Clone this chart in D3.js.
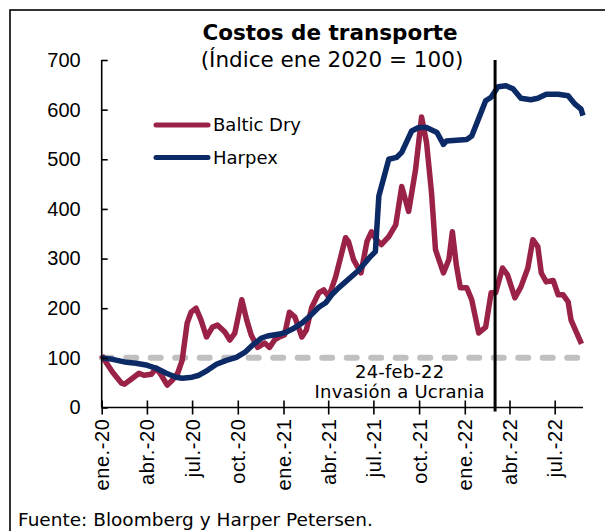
<!DOCTYPE html>
<html>
<head>
<meta charset="utf-8">
<script src="https://cdnjs.cloudflare.com/ajax/libs/d3/7.8.5/d3.min.js"></script>
<style>
    body { margin: 0; background: #fff; }
    svg { display: block; font-family: "DejaVu Sans", sans-serif; }
    .axis path, .axis line { stroke: #000; stroke-width: 1.6px; }
    .axis text { font-size: 20px; fill: #000; }
    .x.axis text { letter-spacing: 0.6px; }
    .legende { font-size: 18px; }
</style>
</head>
<body>
<div id="chart"></div>
<script>
/*global d3*/

var balticDates = [
    "2020-01-01", "2020-01-11", "2020-01-23", "2020-02-10", "2020-02-16", "2020-03-03",
    "2020-03-16", "2020-03-26", "2020-04-10", "2020-04-20", "2020-04-30", "2020-05-12",
    "2020-05-22", "2020-06-02", "2020-06-11", "2020-06-21", "2020-06-29", "2020-07-09",
    "2020-07-19", "2020-07-30", "2020-08-11", "2020-08-21", "2020-09-05", "2020-09-15",
    "2020-09-25", "2020-10-09", "2020-10-19", "2020-10-28", "2020-11-10", "2020-11-24",
    "2020-12-04", "2020-12-14", "2020-12-24", "2021-01-03", "2021-01-13", "2021-01-24",
    "2021-02-07", "2021-02-16", "2021-02-27", "2021-03-13", "2021-03-23", "2021-04-02",
    "2021-04-16", "2021-05-06", "2021-05-12", "2021-05-22", "2021-06-06", "2021-06-18",
    "2021-06-27", "2021-07-07", "2021-07-17", "2021-08-01", "2021-08-15", "2021-08-27",
    "2021-09-10", "2021-09-24", "2021-10-06", "2021-10-16", "2021-10-26", "2021-11-03",
    "2021-11-19", "2021-11-30", "2021-12-07", "2021-12-15", "2021-12-23", "2022-01-05",
    "2022-01-15", "2022-01-29", "2022-02-12", "2022-02-23", "2022-03-04", "2022-03-18",
    "2022-03-28", "2022-04-12", "2022-04-24", "2022-05-08", "2022-05-18", "2022-05-28",
    "2022-06-04", "2022-06-14", "2022-06-28", "2022-07-08", "2022-07-18", "2022-07-28",
    "2022-08-03", "2022-08-24"
];
var balticValues = [
    105, 89, 71, 49, 47, 59,
    69, 65, 67, 79, 65, 45,
    55, 69, 95, 170, 192, 200,
    176, 142, 162, 166, 152, 136,
    150, 217, 176, 146, 121, 130,
    121, 136, 142, 146, 192, 182,
    142, 156, 202, 231, 237, 223,
    263, 342, 334, 298, 271, 334,
    354, 338, 328, 344, 368, 445,
    395, 480, 585, 534, 433, 318,
    271, 298, 354, 287, 241, 241,
    217, 150, 162, 231, 231, 281,
    267, 221, 243, 281, 338, 324,
    271, 253, 256, 227, 227, 213,
    176, 128
];

var harpexDates = [
    "2020-01-01", "2020-01-23", "2020-02-20", "2020-03-10", "2020-04-02", "2020-04-20",
    "2020-05-10", "2020-05-30", "2020-06-11", "2020-07-01", "2020-07-15", "2020-08-01",
    "2020-08-19", "2020-09-08", "2020-09-28", "2020-10-15", "2020-10-31", "2020-11-18",
    "2020-11-30", "2020-12-24", "2021-01-07", "2021-01-19", "2021-02-07", "2021-02-21",
    "2021-03-13", "2021-03-27", "2021-04-08", "2021-04-22", "2021-06-02", "2021-06-25",
    "2021-07-05", "2021-07-12", "2021-08-01", "2021-08-17", "2021-08-27", "2021-09-16",
    "2021-09-30", "2021-10-16", "2021-11-06", "2021-11-19", "2021-11-25", "2022-01-05",
    "2022-01-15", "2022-02-03", "2022-02-12", "2022-02-23", "2022-03-09", "2022-03-25",
    "2022-04-08", "2022-04-24", "2022-05-14", "2022-05-28", "2022-06-14", "2022-07-08",
    "2022-07-28", "2022-08-11", "2022-08-23", "2022-08-27"
];
var harpexValues = [
    100, 97, 91, 89, 85, 79,
    69, 61, 59, 61, 65, 75,
    87, 95, 101, 111, 126, 140,
    144, 148, 152, 158, 170, 182,
    202, 211, 227, 241, 277, 304,
    314, 426, 500, 504, 514, 557,
    564, 564, 554, 530, 537, 540,
    547, 595, 618, 625, 646, 648,
    642, 623, 620, 623, 631, 631,
    628, 611, 601, 588
];

var tickDates = ["2020-01-01", "2020-04-01", "2020-07-01", "2020-10-01", "2021-01-01", "2021-04-01",
    "2021-07-01", "2021-10-01", "2022-01-01", "2022-04-01", "2022-07-01"];
var tickLabels = ["ene.-20", "abr.-20", "jul.-20", "oct.-20", "ene.-21", "abr.-21",
    "jul.-21", "oct.-21", "ene.-22", "abr.-22", "jul.-22"];
var yTicks = [0, 100, 200, 300, 400, 500, 600, 700];
var seriesNames = ["Baltic Dry", "Harpex"];
var eventDate = "2022-03-03";
var eventLabel = ["24-feb-22", "Invasión a Ucrania"];

(function () {
    "use strict";

    var parse = d3.timeParse("%Y-%m-%d"),
        colors = ["#9b2247", "#0b2a66"],
        widthGlobal = 605,
        heightGlobal = 531,
        margin = {top: 60, right: 22, bottom: 123.5, left: 101.7},
        width = widthGlobal - margin.left - margin.right,
        height = heightGlobal - margin.top - margin.bottom,

        x = d3.scaleTime()
        .domain([parse("2020-01-01"), parse("2022-08-27")])
        .range([0, width]),

        y = d3.scaleLinear()
        .domain([0, 700])
        .range([height, 0]),

        line = d3.line()
        .x(function (d) { return x(d.date); })
        .y(function (d) { return y(d.value); }),

        series = [
            balticDates.map(function (d, i) { return {date: parse(d), value: balticValues[i]}; }),
            harpexDates.map(function (d, i) { return {date: parse(d), value: harpexValues[i]}; })
        ],

        svg = d3.select("#chart").append("svg")
        .attr("width", widthGlobal)
        .attr("height", heightGlobal),

        chart = svg.append("g")
        .attr("transform", "translate(" + margin.left + "," + margin.top + ")");

    // cadre autour de la figure
    svg.append("rect")
        .attr("x", 10).attr("y", 10)
        .attr("width", 620).attr("height", 560)
        .attr("fill", "none")
        .attr("stroke", "#000")
        .attr("stroke-width", 1.6);

    svg.append("text")
        .attr("x", 330).attr("y", 40)
        .attr("text-anchor", "middle")
        .style("font-size", "21.5px")
        .style("font-weight", "bold")
        .text("Costos de transporte");
    svg.append("text")
        .attr("x", 332).attr("y", 67)
        .attr("text-anchor", "middle")
        .style("font-size", "21.5px")
        .text("(Índice ene 2020 = 100)");

    // ligne de référence à 100
    chart.append("line")
        .attr("x1", 0).attr("x2", width + 2)
        .attr("y1", y(100)).attr("y2", y(100))
        .attr("stroke", "#c0c0c0")
        .attr("stroke-width", 6)
        .attr("stroke-linecap", "round")
        .attr("stroke-dasharray", "10 14.5");

    chart.selectAll(".serie")
        .data(series)
        .enter().append("path")
        .attr("class", "serie")
        .attr("d", line)
        .attr("fill", "none")
        .attr("stroke", function (d, i) { return colors[i]; })
        .attr("stroke-width", 5.5)
        .attr("stroke-linejoin", "round");

    var xAxis = chart.append("g")
        .attr("class", "x axis")
        .attr("transform", "translate(0," + height + ")")
        .call(d3.axisBottom(x)
            .tickValues(tickDates.map(parse))
            .tickSize(7)
            .tickFormat(function (d, i) { return tickLabels[i]; }));
    xAxis.select(".domain").attr("d", "M0,0H" + width);
    xAxis.selectAll(".tick line").attr("y1", -7);
    xAxis.selectAll(".tick text")
        .attr("transform", "rotate(-90)")
        .attr("text-anchor", "end")
        .attr("x", -11)
        .attr("y", 0)
        .attr("dy", "0.35em");

    var yAxis = chart.append("g")
        .attr("class", "y axis")
        .call(d3.axisLeft(y).tickValues(yTicks).tickSize(-6).tickPadding(21));
    yAxis.select(".domain").attr("d", "M0," + height + "V0");

    // fecha de la invasión
    chart.append("line")
        .attr("x1", x(parse(eventDate))).attr("x2", x(parse(eventDate)))
        .attr("y1", y(700)).attr("y2", height + 4)
        .attr("stroke", "#000")
        .attr("stroke-width", 3);
    chart.selectAll(".evento")
        .data(eventLabel)
        .enter().append("text")
        .attr("class", "legende evento")
        .attr("x", 298)
        .attr("y", function (d, i) { return 318 + i * 20; })
        .attr("text-anchor", "middle")
        .style("letter-spacing", "0.2px")
        .text(function (d) { return d; });

    // légende
    var legend = svg.selectAll(".leg")
        .data(seriesNames)
        .enter().append("g")
        .attr("class", "leg")
        .attr("transform", function (d, i) { return "translate(156," + (125 + i * 32.5) + ")"; });
    legend.append("line")
        .attr("x1", 0).attr("x2", 52)
        .attr("stroke", function (d, i) { return colors[i]; })
        .attr("stroke-width", 5)
        .attr("stroke-linecap", "round");
    legend.append("text")
        .attr("class", "legende")
        .attr("x", 57)
        .attr("dy", "0.35em")
        .text(function (d) { return d; });

    svg.append("text")
        .attr("x", 18).attr("y", 526)
        .style("font-size", "18.5px")
        .text("Fuente: Bloomberg y Harper Petersen.");
}());
</script>
</body>
</html>
